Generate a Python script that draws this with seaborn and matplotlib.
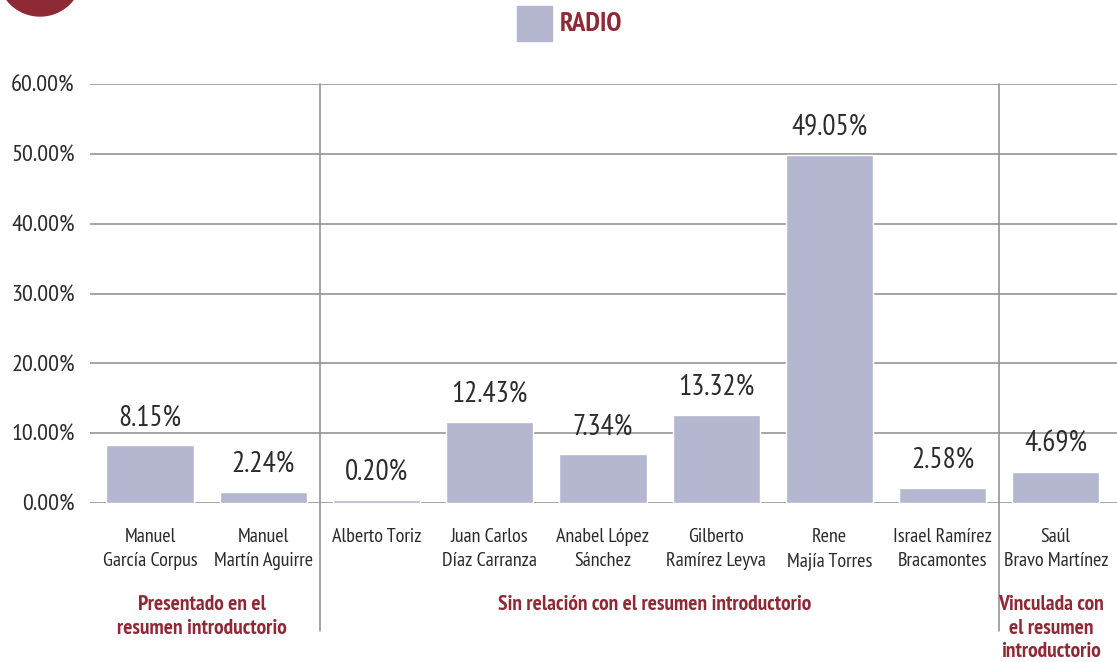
import numpy as np
import pandas as pd
import matplotlib
matplotlib.use("Agg")
import matplotlib.pyplot as plt
import matplotlib.transforms as mtransforms
from matplotlib.patches import Circle, Rectangle
import seaborn as sns

# ─── DATA ───────────────────────────────────────────────
candidates = [
    "Manuel\nGarcía Corpus", "Manuel\nMartín Aguirre", "Alberto Toriz",
    "Juan Carlos\nDíaz Carranza", "Anabel López\nSánchez", "Gilberto\nRamírez Leyva",
    "Rene\nMajía Torres", "Israel Ramírez\nBracamontes", "Saúl\nBravo Martínez",
]
# bar heights as drawn in the picture (%)
bar_heights = [8.25, 1.6, 0.45, 11.6, 6.95, 12.6, 49.85, 2.15, 4.5]
# printed labels
value_labels = ["8.15%", "2.24%", "0.20%", "12.43%", "7.34%", "13.32%", "49.05%", "2.58%", "4.69%"]

group_names = [
    "Presentado en el\nresumen introductorio",
    "Sin relación con el resumen introductorio",
    "Vinculada con\nel resumen\nintroductorio",
]
group_members = [[0, 1], [2, 3, 4, 5, 6, 7], [8]]

y_ticks = [0, 10, 20, 30, 40, 50, 60]
legend_label = "RADIO"

# ─── STYLE ──────────────────────────────────────────────
BAR_COLOR = "#B4B7CF"
RED = "#8E2A36"
TEXT = "#2b2b2b"
GRID = "#8c8c8c"

sns.set_style("white")
plt.rcParams["font.family"] = ["PT Sans Narrow", "DejaVu Sans"]

df = pd.DataFrame({"candidate": candidates, "pct": bar_heights})

fig = plt.figure(figsize=(11.17, 6.62), dpi=100)
ax = fig.add_axes([90 / 1117, 1 - 503 / 662, 1 - 90 / 1117, (503 - 84) / 662])

sns.barplot(data=df, x="candidate", y="pct", color=BAR_COLOR, saturation=1,
            width=0.77, ax=ax, zorder=3)

ax.set_ylim(0, 60)
ax.set_xlim(-0.53, len(candidates) - 0.46)
ax.set_yticks(y_ticks)
ax.set_yticklabels([f"{t:.2f}%" for t in y_ticks], fontsize=17.5, color=TEXT)
ax.set_xticks(range(len(candidates)))
ax.set_xticklabels(candidates, fontsize=14.5, color=TEXT, linespacing=1.45)
ax.tick_params(axis="both", length=0)
ax.tick_params(axis="x", pad=18)
ax.tick_params(axis="y", pad=11)
ax.set_xlabel("")
ax.set_ylabel("")
for s in ax.spines.values():
    s.set_visible(False)

for t in y_ticks:
    ax.axhline(t, color=GRID, lw=1.1, zorder=1)

# group separators, reaching down into the label area
for b in [1.5, 7.5]:
    ax.axvline(b, ymin=-0.305, ymax=1, color=GRID, lw=1.1, clip_on=False, zorder=1)

# value labels
for i, (h, lab) in enumerate(zip(bar_heights, value_labels)):
    ax.annotate(lab, (i, h), xytext=(0, 20), textcoords="offset points",
                ha="center", va="center", fontsize=21, color=TEXT)

# group labels below the candidate names
trans = mtransforms.blended_transform_factory(ax.transData, fig.transFigure)
for name, members in zip(group_names, group_members):
    ax.text(np.mean(members) - 0.04, 1 - 595 / 662, name, transform=trans,
            ha="center", va="top", fontsize=15.5, fontweight="bold",
            color=RED, linespacing=1.3)

# legend swatch + title
fig.patches.append(Rectangle((517 / 1117, 1 - 41 / 662), 35 / 1117, 35 / 662,
                             transform=fig.transFigure, color=BAR_COLOR))
fig.text(560 / 1117, 1 - 24 / 662, legend_label, ha="left", va="center",
         fontsize=19.5, fontweight="bold", color=RED)

# red badge partially visible in the corner
fig.patches.append(Circle((40, 662 + 26), 42, transform=None, color=RED))

fig.savefig("out.png", dpi=100)
